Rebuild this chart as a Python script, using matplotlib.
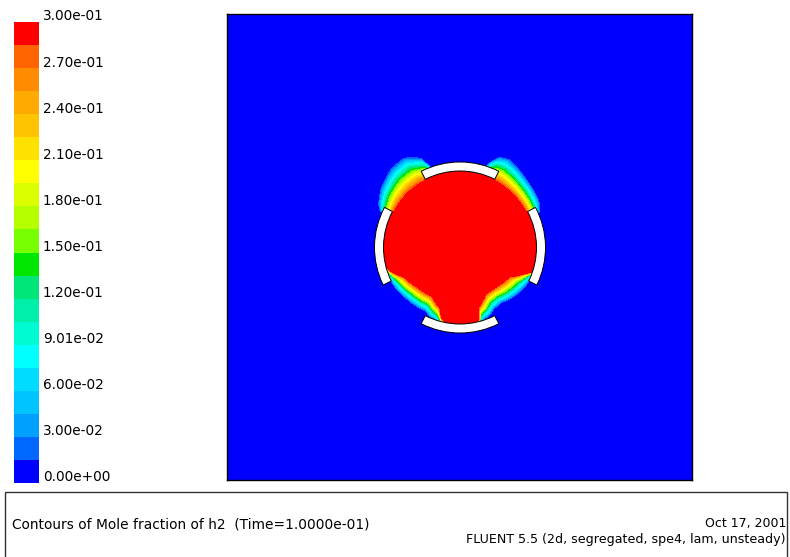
import numpy as np
import matplotlib
matplotlib.use('Agg')
import matplotlib.pyplot as plt
from matplotlib.colors import ListedColormap, BoundaryNorm
from matplotlib.patches import Wedge, Rectangle

# contour levels and colours (bottom band first)
levels = np.linspace(0.0, 0.3, 21)
band_colors = ['#0000ff', '#0068ff', '#00a0ff', '#00c4ff', '#00dcff',
               '#00ffff', '#00fad2', '#00f0aa', '#00e678', '#00e600',
               '#78ff00', '#b4ff00', '#dcff00', '#ffff00', '#ffe100',
               '#ffc300', '#ffaa00', '#ff8c00', '#ff6400', '#ff0000']
tick_labels = ['0.00e+00', '3.00e-02', '6.00e-02', '9.01e-02', '1.20e-01',
               '1.50e-01', '1.80e-01', '2.10e-01', '2.40e-01', '2.70e-01',
               '3.00e-01']

# geometry (mm)
box_w, box_h = 465.0, 466.0
cx, cy = 233.0, 232.5
r_in, r_out = 76.5, 85.5
wall_start = [-26, 63, 152, 243]
wall_end = [28, 117, 206, 297]

# h2 plume leaving the two upper gaps: outer edge radius vs angle
plume_r_ang = [22, 24, 30, 46, 61, 66, 70, 72, 74]
plume_r_edge = [74, 88, 92, 96, 102, 100, 92, 86, 74]
plume_l_ang = [106, 110, 112, 114, 122, 131.5, 143.5, 152, 155, 158]
plume_l_edge = [74, 86, 92, 99, 107, 105.7, 99.5, 93, 89, 74]
plume_r0 = 74.0

# air coming in through the lower gaps: radius where h2 is full / zero
# lower right gap (angle below the horizontal)
in_r_ang = [-80, -75, -72.8, -67, -61, -53, -45, -31, -24, -19.5, -12]
in_r_full = [77, 74, 62, 57, 52.2, 52, 53, 56.4, 66, 75, 78]
in_r_zero = [79, 78, 77, 75.4, 71, 69.7, 73, 77, 77.5, 78, 79]
# lower left gap (same angles measured from the left)
in_l_ang = [-80, -75.4, -71.3, -67, -61.4, -59.2, -43, -28, -19.5, -12]
in_l_full = [77, 72.8, 62.5, 60, 56, 55.3, 57.4, 62.3, 72.5, 78]
in_l_zero = [79, 78.5, 77.5, 76.6, 73, 73.5, 75, 77.5, 78, 79]

xs = np.arange(0.5, box_w, 1.0)
ys = np.arange(0.5, box_h, 1.0)
X, Y = np.meshgrid(xs, ys)
dx, dy = X - cx, Y - cy
r = np.hypot(dx, dy)
ang = np.degrees(np.arctan2(dy, dx))
ang_m = np.degrees(np.arctan2(dy, -dx))

inside = r < r_in
frac = np.where(inside, 0.3, 0.0)

for a, ta, tf, tz in ((ang, in_r_ang, in_r_full, in_r_zero),
                      (ang_m, in_l_ang, in_l_full, in_l_zero)):
    rf = np.interp(a, ta, tf, left=r_in + 1, right=r_in + 1)
    rz = np.interp(a, ta, tz, left=r_in + 2, right=r_in + 2)
    v = 0.3 * np.clip((rz - r) / (rz - rf), 0, 1)
    frac = np.where(inside, np.minimum(frac, v), frac)

for tab_a, tab_r, g0, g1 in ((plume_r_ang, plume_r_edge, 28, 63),
                             (plume_l_ang, plume_l_edge, 117, 152)):
    re = np.interp(ang, tab_a, tab_r, left=plume_r0, right=plume_r0)
    v = 0.3 * np.clip((re - r) / np.maximum(re - plume_r0, 1e-6), 0, 1)
    frac = np.where(~inside, np.maximum(frac, v), frac)
    gap = inside & (ang > g0) & (ang < g1)
    frac = np.where(gap, np.minimum(frac, v), frac)

fig = plt.figure(figsize=(7.9, 5.57), dpi=100)

ax = fig.add_axes([227 / 790, 77 / 557, 465 / 790, 466 / 557])
ax.contourf(xs, ys, frac, levels=levels, colors=band_colors)
for t0, t1 in zip(wall_start, wall_end):
    ax.add_patch(Wedge((cx, cy), r_out, t0, t1, width=r_out - r_in,
                       facecolor='white', edgecolor='black', lw=0.7))
ax.set_xlim(0, box_w)
ax.set_ylim(0, box_h)
ax.set_xticks([])
ax.set_yticks([])
for s in ax.spines.values():
    s.set_color('black')
    s.set_linewidth(1.0)

cax = fig.add_axes([14 / 790, 74 / 557, 25 / 790, 461 / 557])
cmap = ListedColormap(band_colors)
norm = BoundaryNorm(levels, cmap.N)
cax.pcolormesh([0, 1], levels, (levels[:-1] + 0.0075).reshape(-1, 1),
               cmap=cmap, norm=norm)
cax.set_xlim(0, 1)
cax.set_ylim(0, 0.3)
cax.axis('off')
for k, lab in enumerate(tick_labels):
    cax.text(1.16, k / 10 + 0.012, lab, transform=cax.transAxes, ha='left',
             va='center', fontsize=9.8, color='black')

fig.patches.append(Rectangle((5 / 790, -0.05), 782 / 790, 0.05 + 65 / 557,
                             transform=fig.transFigure, fill=False,
                             edgecolor='#333333', lw=1.0))
fig.text(12 / 790, 1 - 524 / 557, 'Contours of Mole fraction of h2  (Time=1.0000e-01)',
         ha='left', va='center', fontsize=9.9)
fig.text(786 / 790, 1 - 524 / 557, 'Oct 17, 2001', ha='right', va='center', fontsize=9)
fig.text(786 / 790, 1 - 540 / 557, 'FLUENT 5.5 (2d, segregated, spe4, lam, unsteady)',
         ha='right', va='center', fontsize=9.1)

fig.savefig('out.png', dpi=100)
